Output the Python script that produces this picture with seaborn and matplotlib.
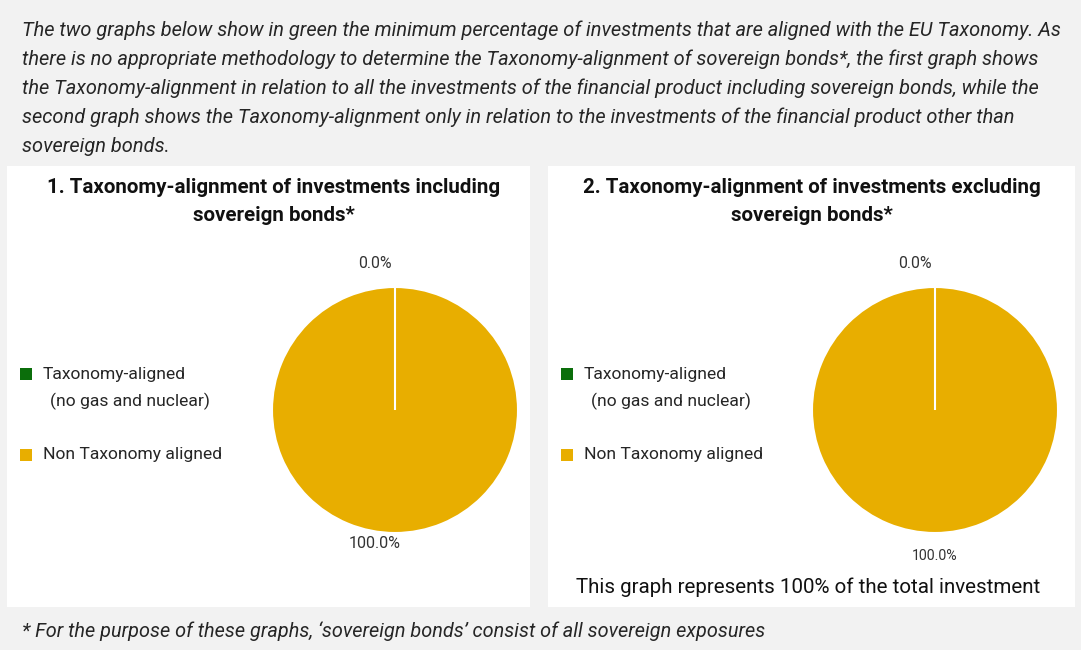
import matplotlib
matplotlib.use("Agg")
import matplotlib.pyplot as plt
import seaborn as sns
import numpy as np
from matplotlib.patches import Rectangle

sns.set_theme(style="white")
plt.rcParams['font.family'] = ['Roboto', 'DejaVu Sans']

# ---- data ----
categories = ["Taxonomy-aligned", "Non Taxonomy aligned"]
category_notes = ["(no gas and nuclear)", ""]
values_incl = [0.0, 100.0]
values_excl = [0.0, 100.0]
colors = ["#0b6e0b", "#e8ae00"]
titles = ["1. Taxonomy-alignment of investments including\nsovereign bonds*",
          "2. Taxonomy-alignment of investments excluding\nsovereign bonds*"]
intro_lines = [
    "The two graphs below show in green the minimum percentage of investments that are aligned with the EU Taxonomy. As",
    "there is no appropriate methodology to determine the Taxonomy-alignment of sovereign bonds*, the first graph shows",
    "the Taxonomy-alignment in relation to all the investments of the financial product including sovereign bonds, while the",
    "second graph shows the Taxonomy-alignment only in relation to the investments of the financial product other than",
    "sovereign bonds.",
]
footnote = "* For the purpose of these graphs, \u2018sovereign bonds\u2019 consist of all sovereign exposures"
note2 = "This graph represents 100% of the total investment"

W, H = 1081, 650
fig = plt.figure(figsize=(W / 100, H / 100), dpi=100)
fig.patch.set_facecolor("#f2f2f2")

def fx(px):
    return px / W

def fy(py):
    return 1 - py / H

# white panels
for (x0, x1) in [(7, 530), (548, 1075)]:
    fig.add_artist(Rectangle((fx(x0), fy(607)), fx(x1 - x0), (607 - 166) / H,
                             transform=fig.transFigure, facecolor="white",
                             edgecolor="none", zorder=-10))

TXT = "#262626"
# intro text
for i, line in enumerate(intro_lines):
    fig.text(fx(22), fy(30 + i * 29), line, fontsize=14.45, style="italic",
             color=TXT, va="center", ha="left")

fig.text(fx(22), fy(631), footnote, fontsize=14.3, style="italic",
         color=TXT, va="center", ha="left")

panels = [
    dict(vals=values_incl, title=titles[0], cx=395, lx=375, tcx=274, legx=20,
         lab100=544, fs100=11.6),
    dict(vals=values_excl, title=titles[1], cx=935, lx=915, tcx=812, legx=561,
         lab100=556, fs100=10.2),
]

R = 123
START = 90
for p in panels:
    ax = fig.add_axes([fx(p["cx"] - R), fy(410 + R), fx(2 * R), 2 * R / H])
    ax.pie(p["vals"], colors=colors, startangle=START, counterclock=False,
           wedgeprops=dict(edgecolor="white", linewidth=1.5))
    # slice boundaries (drawn explicitly so a full-circle slice keeps its separator)
    vals = np.asarray(p["vals"], dtype=float)
    bounds = START - 360 * np.concatenate([[0], np.cumsum(vals)]) / vals.sum()
    for b in np.unique(np.round(np.mod(bounds, 360), 6)):
        t = np.deg2rad(b)
        ax.plot([0, np.cos(t)], [0, np.sin(t)], color="white", lw=1.5,
                solid_capstyle="butt")
    ax.set_xlim(-1, 1)
    ax.set_ylim(-1, 1)
    ax.set_aspect("equal")
    ax.axis("off")
    # value labels
    fig.text(fx(p["lx"]), fy(263), f"{p['vals'][0]:.1f}%", ha="center", va="center",
             fontsize=11.4, color="#333333")
    x100 = p["lx"] if p is panels[0] else p["cx"]
    fig.text(fx(x100), fy(p["lab100"]), f"{p['vals'][1]:.1f}%", ha="center", va="center",
             fontsize=p["fs100"], color="#333333")
    # title
    fig.text(fx(p["tcx"]), fy(202), p["title"], ha="center", va="center",
             fontsize=14.8, fontweight="bold", color="#111111", linespacing=1.6)
    # legend (manual)
    rows = [374, 455]
    for cat, note, col, yy in zip(categories, category_notes, colors, rows):
        fig.add_artist(Rectangle((fx(p["legx"]), fy(yy + 6)), fx(12), 12 / H,
                                 transform=fig.transFigure, facecolor=col,
                                 edgecolor="none"))
        fig.text(fx(p["legx"] + 23), fy(yy), cat, ha="left", va="center",
                 fontsize=12.6, color=TXT)
        if note:
            fig.text(fx(p["legx"] + 30), fy(yy + 27), note, ha="left", va="center",
                     fontsize=12.6, color=TXT)

fig.text(fx(808), fy(587), note2, ha="center", va="center", fontsize=14.8, color="#111111")

fig.savefig("out.png", dpi=100, facecolor=fig.get_facecolor())
